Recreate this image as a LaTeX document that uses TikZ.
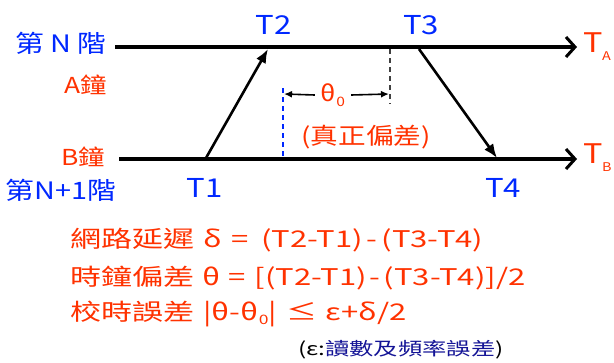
\documentclass[tikz,border=0pt]{standalone}
\usepackage{fontspec}
\setmainfont{Noto Sans CJK TC}[FakeStretch=1.2]
\newfontfamily\widefont{Noto Sans CJK TC}[FakeStretch=1.35]
\usetikzlibrary{arrows.meta}
\definecolor{blueT}{RGB}{0,40,255}
\definecolor{redT}{RGB}{255,50,0}
\definecolor{navyT}{RGB}{20,20,150}
\newcommand{\sub}[2][-4pt]{\raisebox{#1}{\fontsize{13}{13}\selectfont #2}}
\begin{document}
\begin{tikzpicture}[x=1pt,y=-1pt,
  timeline/.style={line width=3.5pt,-{Straight Barb[length=9pt,width=20pt,line width=3pt]}},
  msg/.style={line width=2.6pt,-{Latex[length=14pt,width=11pt]}},
  gap/.style={line width=1.6pt,-{Latex[length=8pt,width=7pt]}},
  bluelbl/.style={text=blueT,inner sep=0pt,font=\fontsize{24}{24}\selectfont},
  redlbl/.style={text=redT,inner sep=0pt,font=\fontsize{22}{22}\selectfont},
  formula/.style={text=redT,inner sep=0pt,anchor=west,font=\widefont\fontsize{23}{23}\selectfont}]
\useasboundingbox (0,0) rectangle (614,362);
% timelines
\coordinate (topL) at (115,47);
\coordinate (topR) at (577,47);
\coordinate (botL) at (119,159);
\coordinate (botR) at (577,159);
\draw[timeline] (topL) -- (topR);
\draw[timeline] (botL) -- (botR);
% events
\coordinate (p1) at (206,158);
\coordinate (p2) at (268,49);
\coordinate (p3) at (419,49);
\coordinate (p4) at (497,158);
\draw[msg] (p1) -- (p2);
\draw[msg] (p3) -- (p4);
% dashed marks
\coordinate (dbTop) at (283,88);
\coordinate (dbBot) at (283,158);
\coordinate (dkTop) at (390,49);
\coordinate (dkBot) at (390,104);
\draw[blueT,dashed,line width=1.6pt,dash pattern=on 5pt off 4pt] (dbTop) -- (dbBot);
\draw[black!75,dashed,line width=1.3pt,dash pattern=on 5pt off 4pt] (dkTop) -- (dkBot);
% theta0
\node[redlbl] (th) at (333,95) {θ\sub[-5pt]{0}};
\coordinate (thL) at (284,94);
\coordinate (thR) at (389,94);
\draw[gap] (th.west) ++(-6pt,0) coordinate (thLs) -- (thL);
\draw[gap] (th.east) ++(6pt,0) coordinate (thRs) -- (thR);
\node[redlbl,font=\fontsize{23}{23}\selectfont] (true) at (366,137) {(真正偏差)};
% labels
\node[bluelbl] (lvN) at (61,43) {第 N 階};
\node[bluelbl] (lvN1) at (61,190) {第N+1階};
\node[redlbl] (clkA) at (86,85) {A鐘};
\node[redlbl] (clkB) at (83,157) {B鐘};
\node[bluelbl,font=\fontsize{26}{26}\selectfont] (t1) at (205,188) {T1};
\node[bluelbl,font=\fontsize{26}{26}\selectfont] (t2) at (274,25) {T2};
\node[bluelbl,font=\fontsize{26}{26}\selectfont] (t3) at (421,25) {T3};
\node[bluelbl,font=\fontsize{26}{26}\selectfont] (t4) at (503,188) {T4};
\node[redlbl,font=\fontsize{27}{27}\selectfont,anchor=west] (ta) at (583,47) {T\kern-0.5pt\raisebox{-8pt}{\fontsize{12}{12}\selectfont A}};
\node[redlbl,font=\fontsize{27}{27}\selectfont,anchor=west] (tb) at (583,158) {T\kern-0.5pt\raisebox{-8pt}{\fontsize{12}{12}\selectfont B}};
% formulas
\node[formula] (f1) at (70,240) {網路延遲\hspace{9pt}δ\hspace{10pt}=\hspace{12pt}(T2-T1)\hspace{4pt}-\hspace{4pt}(T3-T4)};
\node[formula] (f2) at (70,278) {時鐘偏差\hspace{8pt}θ\hspace{8pt}=\hspace{9pt}[(T2-T1)\hspace{3pt}-\hspace{3pt}(T3-T4)]/2};
\node[formula] (f3) at (70,314) {校時誤差\hspace{9pt}|θ-θ\sub{0}|\hspace{10pt}≤\hspace{8pt}ε+δ/2};
\node[inner sep=0pt,anchor=west,font=\widefont\fontsize{18}{18}\selectfont] (fn) at (298,350) {(ε:\textcolor{navyT}{讀數及頻率誤差})};
\end{tikzpicture}
\end{document}
